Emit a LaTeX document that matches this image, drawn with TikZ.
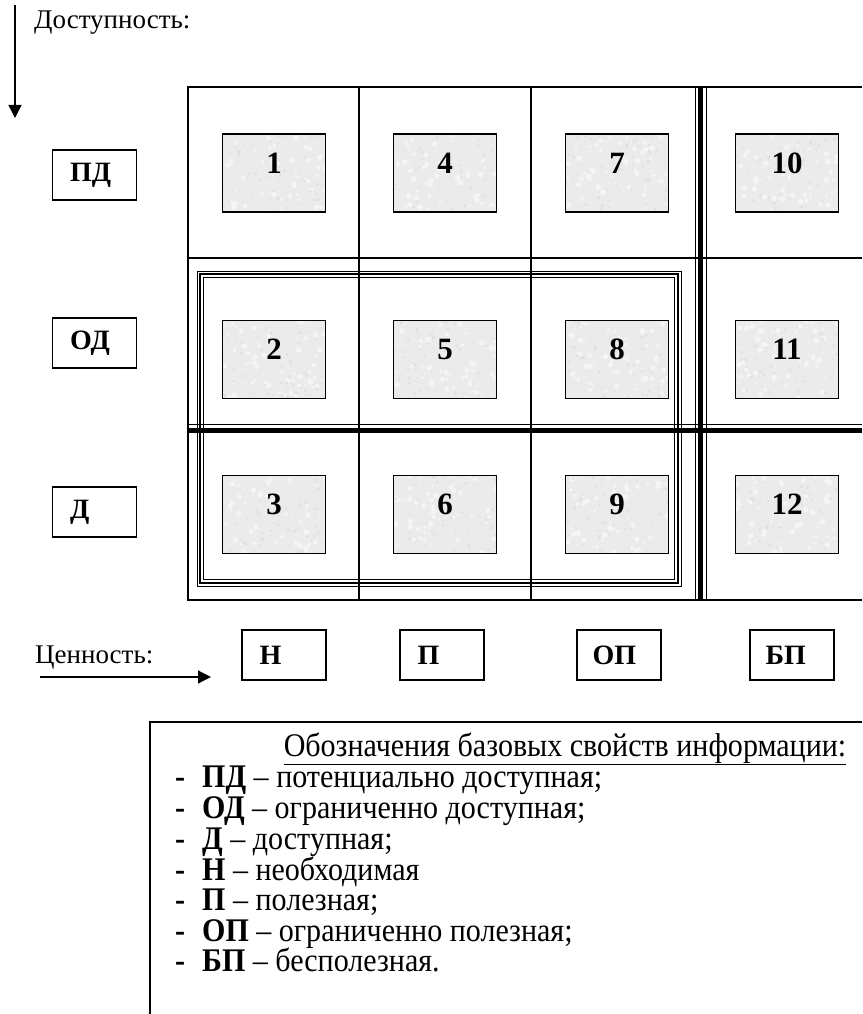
\documentclass[tikz,border=0pt]{standalone}
\usepackage{fontspec}
\setmainfont{Liberation Serif}
\newfontfamily\legfont[FakeStretch=0.91]{Liberation Serif}
\usetikzlibrary{arrows.meta}
\tikzset{
  gridline/.style={line width=1.2pt},
  thickline/.style={line width=5pt},
  graybox/.style={draw, line width=1.2pt, minimum width=103pt, minimum height=78pt, inner sep=0pt},
  numtext/.style={font=\fontsize{31}{36}\selectfont\bfseries, inner sep=0pt},
  labbox/.style={draw, line width=1.2pt, minimum width=84pt, minimum height=50pt, inner sep=0pt},
  labtext/.style={font=\fontsize{28}{32}\selectfont\bfseries, anchor=west, inner sep=0pt},
  plaintext/.style={font=\fontsize{27}{32}\selectfont, inner sep=0pt},
  legtext/.style={font=\legfont\fontsize{33}{38}\selectfont, inner sep=0pt, anchor=base west},
  arr/.style={line width=1.2pt, -{Triangle[width=13pt,length=13pt]}},
  speck/.style={fill=black!12, draw=none},
  speckw/.style={fill=black!4, draw=none}
}
\begin{document}
\begin{tikzpicture}[x=1pt,y=-1pt]
\useasboundingbox (0,0) rectangle (862,1014);
\pgfmathsetseed{7}
% grid
\draw[gridline] (862,87) -- (188,87) -- (188,600) -- (862,600);
\draw[gridline] (359,87) -- (359,600);
\draw[gridline] (531,87) -- (531,600);
\draw[gridline] (188,258) -- (862,258);
\draw[gridline] (188,424.5) -- (862,424.5);
\draw[thickline] (188,430.5) -- (862,430.5);
\draw[gridline] (695.8,87) -- (695.8,600);
\draw[thickline] (700.8,87) -- (700.8,600);
\draw[gridline] (706.8,87) -- (706.8,600);
% inner frame
\draw[line width=1pt] (197,271) rectangle (681,586);
\draw[line width=2.4pt] (200.2,274.2) rectangle (677.8,582.8);
\draw[line width=1pt] (203.5,277.5) rectangle (674.5,579.5);
% gray boxes
\foreach \c/\x in {1/274,2/445,3/617,4/787}{
  \foreach \r/\y in {1/173,2/359.5,3/514.5}{
    \pgfmathtruncatemacro{\n}{(\c-1)*3+\r}
    \begin{scope}
      \clip (\x-51.5,\y-39) rectangle (\x+51.5,\y+39);
      \fill[black!8] (\x-51.5,\y-39) rectangle (\x+51.5,\y+39);
      \foreach \k in {1,...,60}{
        \fill[speckw] (\x+51.5*rand,\y+39*rand) circle[radius=1+2*rnd];
        \fill[speck] (\x+51.5*rand,\y+39*rand) circle[radius=0.6+1.2*rnd];
      }
    \end{scope}
    \node[graybox] (b\n) at (\x,\y) {};
    \node[numtext] (t\n) at ([yshift=10pt]b\n.center) {\n};
  }
}
% left labels
\node[labbox] (pd) at (94.5,175) {};
\node[labtext] (pdt) at ([xshift=18pt]pd.west) {ПД};
\node[labbox] (od) at (94.5,343) {};
\node[labtext] (odt) at ([xshift=18pt]od.west) {ОД};
\node[labbox] (d) at (94.5,512) {};
\node[labtext] (dt) at ([xshift=18pt]d.west) {Д};
% bottom labels
\node[labbox] (n) at (284,655) {};
\node[labtext] (nt) at ([xshift=18pt]n.west) {Н};
\node[labbox] (p) at (442,655) {};
\node[labtext] (pt) at ([xshift=18pt]p.west) {П};
\node[labbox] (op) at (619,655) {};
\node[labtext] (opt) at ([xshift=16pt]op.west) {ОП};
\node[labbox] (bp) at (792,655) {};
\node[labtext] (bpt) at ([xshift=16pt]bp.west) {БП};
% axes
\node[plaintext, anchor=base west] (dost) at (34,29) {Доступность:};
\coordinate (a1s) at (15,5);
\coordinate (a1e) at (15,118);
\draw[arr] (a1s) -- (a1e);
\node[plaintext, anchor=base west] (cen) at (35,663) {Ценность:};
\coordinate (a2s) at (40,677);
\coordinate (a2e) at (211,677);
\draw[arr] (a2s) -- (a2e);
% legend
\draw[gridline] (862,722) -- (150,722) -- (150,1014);
\node[legtext, anchor=base] (title) at (565,756) {\underline{Обозначения базовых свойств информации:}};
\foreach \y/\k/\t [count=\i] in {787/ПД/потенциально доступная;, 818/ОД/ограниченно доступная;, 849/Д/доступная;, 880/Н/необходимая, 910/П/полезная;, 941/ОП/ограниченно полезная;, 971/БП/бесполезная.}{
  \node[legtext] (dash\i) at (175,\y) {\textbf{-}};
  \node[legtext] (item\i) at (202,\y) {\textbf{\k} – \t};
}
\end{tikzpicture}
\end{document}
